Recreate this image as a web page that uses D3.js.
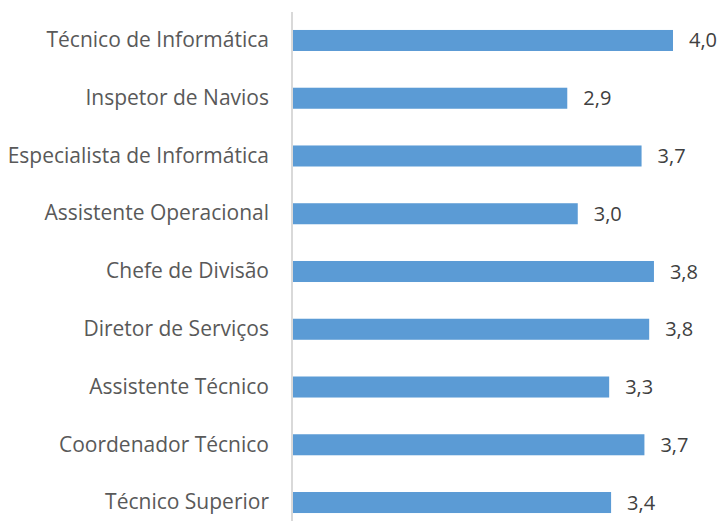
<!DOCTYPE html>
<html>
<head>
<meta charset="utf-8">
<script src="https://cdn.jsdelivr.net/npm/d3@7"></script>
<style>
  html, body { margin: 0; padding: 0; background: #fff; }
  svg { display: block; }
</style>
</head>
<body>
<svg id="chart" width="721" height="521"></svg>
<script>
const categories = [
  "Técnico de Informática",
  "Inspetor de Navios",
  "Especialista de Informática",
  "Assistente Operacional",
  "Chefe de Divisão",
  "Diretor de Serviços",
  "Assistente Técnico",
  "Coordenador Técnico",
  "Técnico Superior"
];
const values = [4.0, 2.89, 3.67, 3.0, 3.8, 3.75, 3.33, 3.7, 3.35];
const valueLabels = ["4,0", "2,9", "3,7", "3,0", "3,8", "3,8", "3,3", "3,7", "3,4"];

const svg = d3.select("#chart");
const fontFamily = "'Open Sans', sans-serif";
const x0 = 292;
const x = d3.scaleLinear().domain([0, 4.0]).range([x0, 673]);
const y = d3.scaleBand().domain(categories).range([11.6, 531.4]).paddingInner(0.636).paddingOuter(0.318);

// bars
svg.append("g").selectAll("rect").data(categories).join("rect")
  .attr("x", x(0))
  .attr("y", d => y(d))
  .attr("width", (d, i) => x(values[i]) - x(0))
  .attr("height", y.bandwidth())
  .attr("fill", "#5B9BD5");

// axis line
const axis = d3.axisLeft(y).tickSize(0).tickPadding(23);
const gAxis = svg.append("g").attr("transform", `translate(${x0},0)`).call(axis);
gAxis.select(".domain").attr("stroke", "#d9d9d9").attr("stroke-width", 2)
  .attr("d", "M0,12V521");
gAxis.selectAll(".tick text")
  .attr("font-family", fontFamily)
  .attr("font-size", 21)
  .attr("fill", "#595959");

// value labels
svg.append("g").selectAll("text").data(categories).join("text")
  .attr("x", (d, i) => x(values[i]) + 16)
  .attr("y", d => y(d) + y.bandwidth() / 2)
  .attr("dy", "0.35em")
  .attr("font-family", fontFamily)
  .attr("font-size", 20)
  .attr("fill", "#404040")
  .text((d, i) => valueLabels[i]);
</script>
</body>
</html>
